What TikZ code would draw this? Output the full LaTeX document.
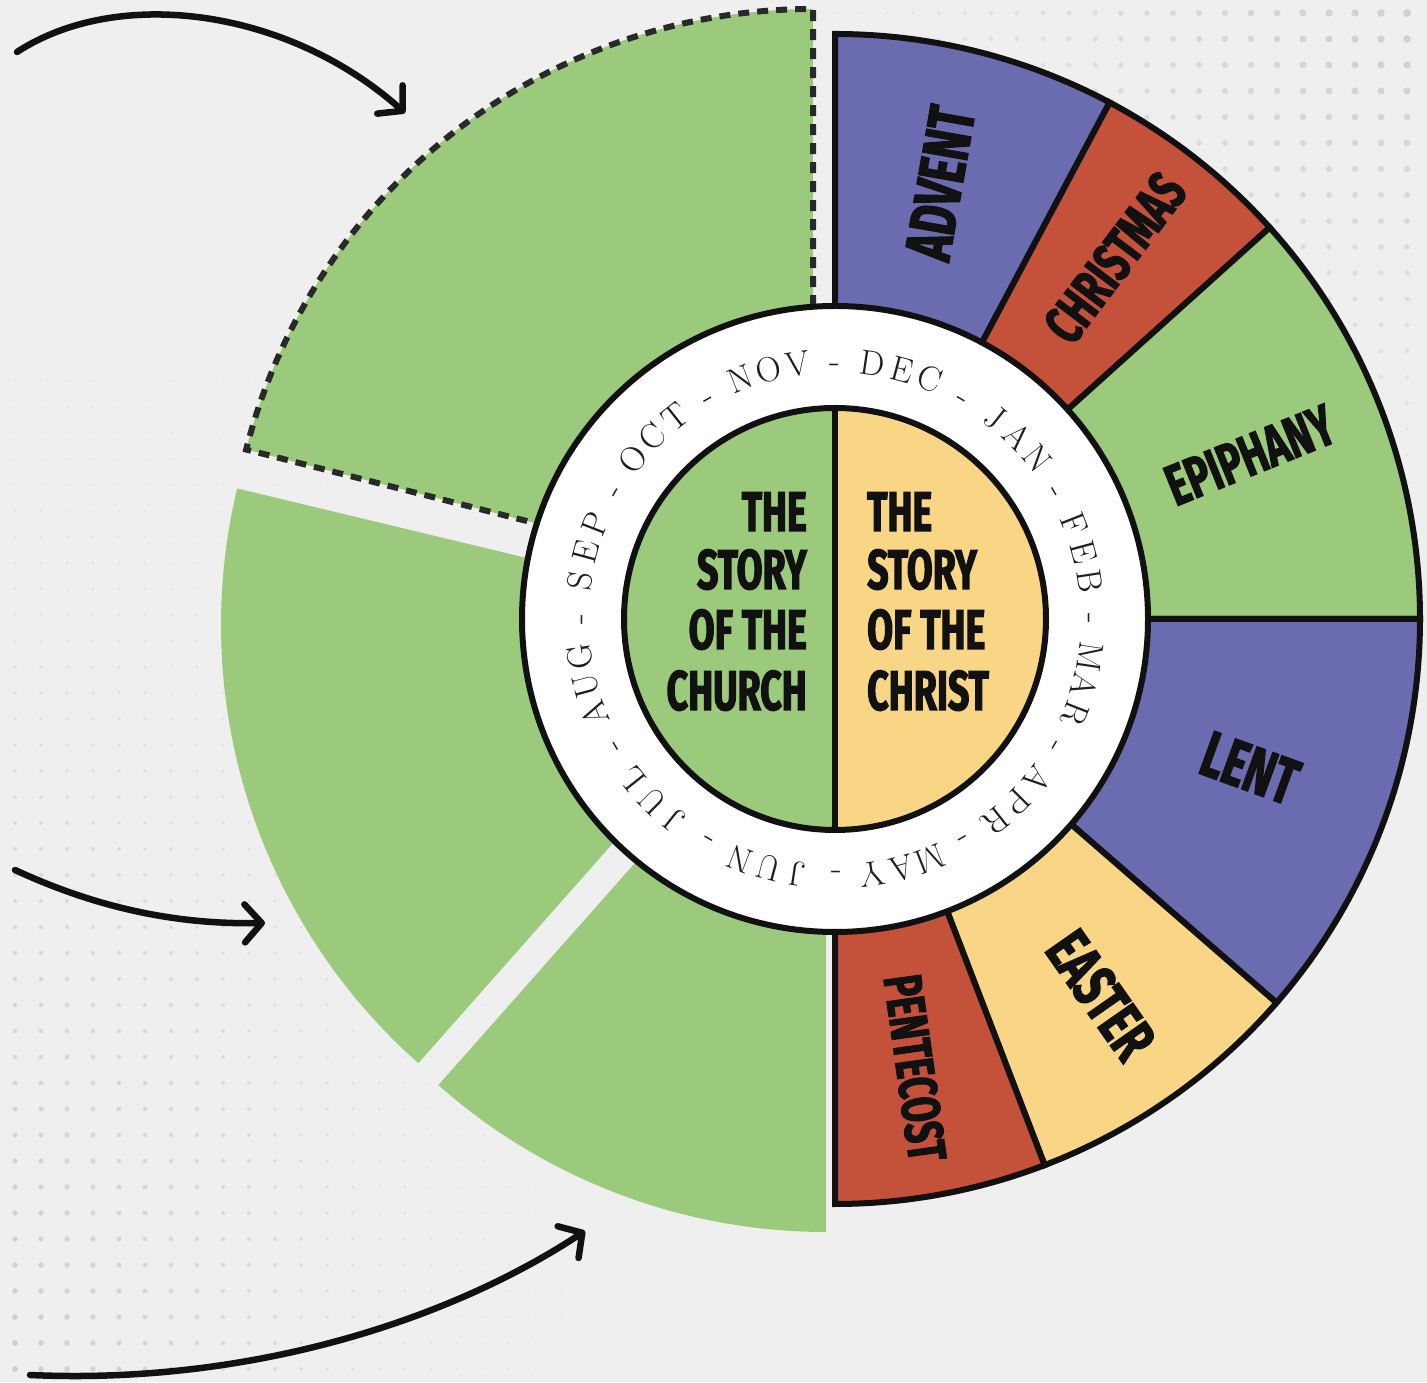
\documentclass[tikz,border=0pt]{standalone}
\usepackage{fontspec}
\newfontfamily\bebas{Fira Sans}[FakeStretch=0.67, BoldFeatures={FakeBold=2}]
\usetikzlibrary{arrows.meta}
\definecolor{bg}{HTML}{EFEFEF}
\definecolor{dotc}{HTML}{CFCFCF}
\definecolor{cgreen}{HTML}{9CCA7C}
\definecolor{cpurple}{HTML}{6A6CAF}
\definecolor{cred}{HTML}{C4523B}
\definecolor{cyellow}{HTML}{F8D686}
\definecolor{ink}{HTML}{111111}
\definecolor{montext}{HTML}{1E1E1E}
\tikzset{
  seg/.style={draw=ink, line width=6pt, line join=miter},
  leftseg/.style={fill=cgreen},
  dashseg/.style={fill=cgreen, draw=ink!90, line width=6pt, dash pattern=on 11pt off 8pt},
  ringline/.style={draw=ink, line width=6pt},
  mon/.style={font=\fontsize{35}{35}\selectfont, text=montext, inner sep=0pt, anchor=base},
  ctext/.style={font=\bebas\bfseries\fontsize{56}{56}\selectfont, inner sep=0pt, text=ink},
  lab/.style={font=\bebas\bfseries\fontsize{#1}{#1}\selectfont, inner sep=0pt, text=ink, anchor=center},
  hand/.style={draw=ink, line width=6.5pt, line cap=round, -{Straight Barb[round, length=17pt, width=38pt]}},
}
\begin{document}
\begin{tikzpicture}[x=1pt, y=1pt]
\fill[bg] (0,0) rectangle (1427,1382);
\useasboundingbox (0,0) rectangle (1427,1382);
% dot patterns
\foreach \i in {0,...,24}{
  \foreach \j in {14,...,52}{
    \pgfmathsetmacro\px{15+26*\i}
    \pgfmathsetmacro\py{17+26*\j}
    \pgfmathsetmacro\f{max(0,1-veclen(1.4*\px,0.7*(1382-\py))/900)}
    \fill[dotc, opacity=\f] (\px,{1382-\py}) circle[radius={0.8+2.2*\f}];
  }
}
\foreach \i in {-13,...,11}{
  \foreach \j in {0,...,30}{
    \pgfmathsetmacro\px{1121+26*\i}
    \pgfmathsetmacro\py{13+26*\j}
    \pgfmathsetmacro\f{max(0,1-veclen(1427-\px,1.2*\py)/750)}
    \fill[dotc, opacity=\f] (\px,{1382-\py}) circle[radius={1+3*\f}];
  }
}
% arrows (image coordinates)
\begin{scope}[shift={(0,1382)}, yscale=-1]
  \coordinate (a1s) at (17,52);
  \coordinate (a1e) at (405,113);
  \coordinate (a2s) at (15,870);
  \coordinate (a2e) at (265,923);
  \coordinate (a3s) at (30,1375);
  \coordinate (a3e) at (585,1231);
  \draw[hand] (a1s) .. controls (120,-15) and (290,10) .. (a1e);
  \draw[hand] (a2s) .. controls (80,900) and (160,925) .. (a2e);
  \draw[hand] (a3s) .. controls (250,1385) and (450,1320) .. (a3e);
\end{scope}
% wheel
\begin{scope}[shift={(835,763)}]
  % left (exploded) segments
  \fill[leftseg, shift={(-29,-6)}] (166.5:200) -- (166.5:585) arc[start angle=166.5, end angle=228.5, radius=585] -- (228.5:200) -- cycle;
  \fill[leftseg, shift={(-9,-28)}] (228.5:200) -- (228.5:585) arc[start angle=228.5, end angle=270, radius=585] -- (270:200) -- cycle;
  \filldraw[dashseg, shift={(-22,25)}] (165.7:200) -- (165.7:585) arc[start angle=165.7, end angle=90, radius=585] -- (90:200) -- cycle;
  % right segments
  \foreach \a/\b/\c in {90/62/cpurple, 62/42/cred, 42/0/cgreen, 0/-41/cpurple, -41/-69/cyellow, -69/-90/cred}{
    \filldraw[seg, fill=\c] (\a:290) -- (\a:585) arc[start angle=\a, end angle=\b, radius=585] -- (\b:290) -- cycle;
  }
  % white ring
  \filldraw[ringline, fill=white] (0,0) circle[radius=313];
  % inner halves
  \fill[cgreen] (90:211) arc[start angle=90, end angle=270, radius=211] -- cycle;
  \fill[cyellow] (-90:211) arc[start angle=-90, end angle=90, radius=211] -- cycle;
  \draw[ringline] (0,0) circle[radius=211];
  \draw[ringline] (90:211) -- (-90:211);
  % months
  \foreach \la/\lb/\lc [count=\i from 0] in {N/O/V,D/E/C,J/A/N,F/E/B,M/A/R,A/P/R,M/A/Y,J/U/N,J/U/L,A/U/G,S/E/P,O/C/T}{
    \pgfmathsetmacro\c{105-30*\i}
    \node[mon, rotate={\c-83.5}] (ma\i) at ({\c+6.6}:246) {\la};
    \node[mon, rotate={\c-90}] (mb\i) at ({\c}:246) {\lb};
    \node[mon, rotate={\c-96.5}] (mc\i) at ({\c-6.6}:246) {\lc};
    \node[mon, rotate={\c-105}] (md\i) at ({\c-15}:246) {-};
  }
  % centre texts
  \node[ctext, anchor=base east] (l1) at (-28,88) {THE};
  \node[ctext, anchor=base east] (l2) at (-28,30) {STORY};
  \node[ctext, anchor=base east] (l3) at (-28,-30) {OF THE};
  \node[ctext, anchor=base east] (l4) at (-28,-91) {CHURCH};
  \node[ctext, anchor=base west] (r1) at (32,88) {THE};
  \node[ctext, anchor=base west] (r2) at (32,30) {STORY};
  \node[ctext, anchor=base west] (r3) at (32,-30) {OF THE};
  \node[ctext, anchor=base west] (r4) at (32,-91) {CHRIST};
  % season labels
  \node[lab=65, rotate=80] (advent) at (105,436) {ADVENT};
  \node[lab=56, rotate=53] (christmas) at (280,361) {CHRISTMAS};
  \node[lab=58, rotate=22] (epiphany) at (415,164) {EPIPHANY};
  \node[lab=65, rotate=-20] (lent) at (415,-149) {LENT};
  \node[lab=62, rotate=-55] (easter) at (266,-376) {EASTER};
  \node[lab=54, rotate=-82] (pentecost) at (80,-449) {PENTECOST};
\end{scope}
\end{tikzpicture}
\end{document}
